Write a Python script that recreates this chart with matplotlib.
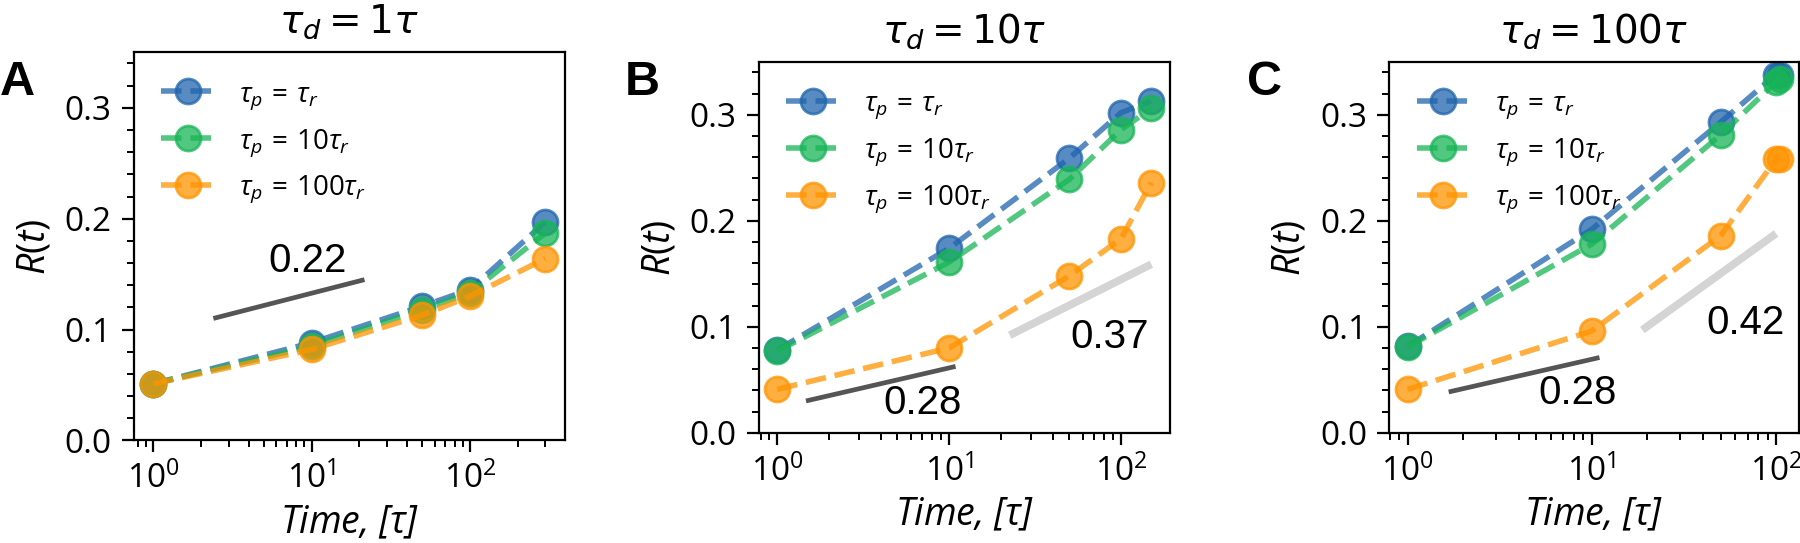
import numpy as np
import matplotlib
matplotlib.use('Agg')
import matplotlib.pyplot as plt
from matplotlib.ticker import MultipleLocator, FormatStrFormatter

####### DATA #######

# time points per panel
t_a = [1, 10, 50, 100, 300]
t_b = [1, 10, 50, 100, 150]
t_c = [1, 10, 50, 100, 105]

# R(t) for tau_p = tau_r, 10 tau_r, 100 tau_r
r_a_1 = [0.051, 0.088, 0.121, 0.136, 0.197]
r_a_10 = [0.051, 0.085, 0.118, 0.133, 0.187]
r_a_100 = [0.051, 0.082, 0.113, 0.130, 0.164]

r_b_1 = [0.078, 0.174, 0.259, 0.302, 0.313]
r_b_10 = [0.077, 0.161, 0.239, 0.286, 0.306]
r_b_100 = [0.041, 0.080, 0.148, 0.183, 0.236]

r_c_1 = [0.0815, 0.192, 0.293, 0.338, 0.338]
r_c_10 = [0.081, 0.178, 0.281, 0.331, 0.334]
r_c_100 = [0.041, 0.096, 0.186, 0.258, 0.258]

series_labels = [r'$\tau_p\,=\,\tau_r$', r'$\tau_p\,=\,10\tau_r$', r'$\tau_p\,=\,100\tau_r$']
titles = [r'$\tau_d = 1\tau$', r'$\tau_d = 10\tau$', r'$\tau_d = 100\tau$']
panel_letters = ['A', 'B', 'C']

# slope guides: (t start, t end), (R start, R end)
guide_dark_t = [[2.4, 21.6], [1.47, 10.9], [1.67, 11.0]]
guide_dark_r = [[0.110, 0.145], [0.030, 0.0626], [0.0385, 0.071]]
guide_light_t = [None, [22.5, 150], [18.8, 100]]
guide_light_r = [None, [0.092, 0.159], [0.097, 0.188]]

# slope labels: text, t, R (baseline)
slope_text = [['0.22'], ['0.28', '0.37'], ['0.28', '0.42']]
slope_t = [[9.46], [7.0, 85.7], [8.36, 68.3]]
slope_r = [[0.152], [0.018, 0.080], [0.0267, 0.093]]

####### STYLE #######

plt.rcParams['font.family'] = 'Open Sans'
plt.rcParams['mathtext.fontset'] = 'custom'
plt.rcParams['mathtext.rm'] = 'Open Sans'
plt.rcParams['mathtext.it'] = 'Open Sans:italic'
plt.rcParams['mathtext.bf'] = 'Open Sans:bold'

colors = ['#1f65ad', '#17b556', '#ff9400']

fig = plt.figure(figsize=(9, 2.715), dpi=200)
positions = [
    [0.0742, 0.189, 0.2397, 0.7145],
    [0.4214, 0.203, 0.2286, 0.6832],
    [0.7717, 0.203, 0.2275, 0.6832],
]
letter_x = [0.0, 0.347, 0.693]

panels = [
    (t_a, [r_a_1, r_a_10, r_a_100]),
    (t_b, [r_b_1, r_b_10, r_b_100]),
    (t_c, [r_c_1, r_c_10, r_c_100]),
]

for i, (t, rs) in enumerate(panels):
    ax = fig.add_axes(positions[i])
    for r, c, lab in zip(rs, colors, series_labels):
        ax.plot(t, r, '--o', color=c, alpha=0.75, lw=2, ms=9, label=lab)

    ax.plot(guide_dark_t[i], guide_dark_r[i], '-', color='#555555', lw=1.7,
            solid_capstyle='butt')
    if guide_light_t[i] is not None:
        ax.plot(guide_light_t[i], guide_light_r[i], '-', color='#d4d4d4', lw=2.8,
                solid_capstyle='butt')
    for s, x, y in zip(slope_text[i], slope_t[i], slope_r[i]):
        ax.text(x, y, s, ha='center', va='baseline', fontsize=14.5,
                family='Liberation Sans')

    ax.set_xscale('log')
    ax.set_ylim(0, 0.35)
    ax.yaxis.set_major_locator(MultipleLocator(0.1))
    ax.yaxis.set_minor_locator(MultipleLocator(0.02))
    ax.yaxis.set_major_formatter(FormatStrFormatter('%.1f'))
    ax.tick_params(which='major', length=4.4, width=0.8, labelsize=12)
    ax.tick_params(which='minor', length=2.4, width=0.7)

    ax.set_title(titles[i], fontsize=14, pad=7, math_fontfamily='dejavusans')
    ax.set_xlabel(r'Time, [$\tau$]', fontsize=13.5, style='italic', labelpad=3)
    ax.set_ylabel(r'$R(t)$', fontsize=13.5, labelpad=4)
    ax.legend(loc='upper left', frameon=False, fontsize=10, labelspacing=0.55,
              handlelength=1.9, handletextpad=0.9, borderaxespad=0.6)

    fig.text(letter_x[i], 0.825, panel_letters[i], fontsize=17.5, weight='bold',
             family='Liberation Sans', ha='left', va='baseline')

plt.savefig('out.png', dpi=200)
